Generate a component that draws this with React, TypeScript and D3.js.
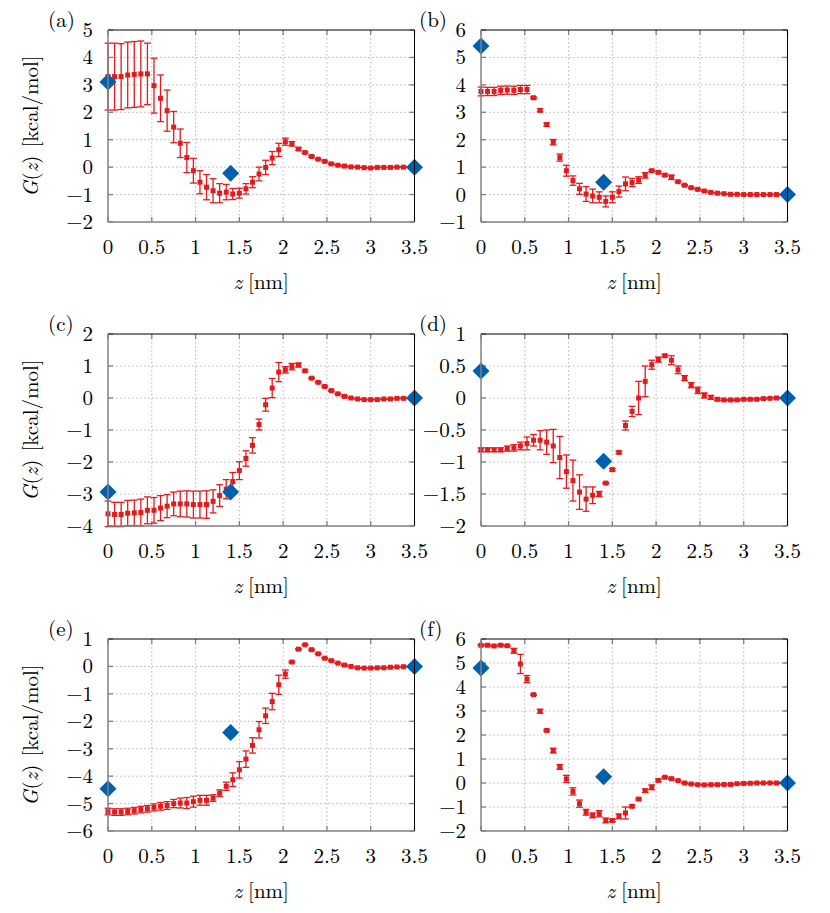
import React from "react";
import * as d3 from "d3";

// ---------- data ----------
const zGrid = [0, 0.075, 0.15, 0.225, 0.3, 0.375, 0.45, 0.525, 0.6, 0.675, 0.75, 0.825, 0.9, 0.975, 1.05, 1.125, 1.2, 1.275, 1.35, 1.425, 1.5, 1.575, 1.65, 1.725, 1.8, 1.875, 1.95, 2.025, 2.1, 2.175, 2.25, 2.325, 2.4, 2.475, 2.55, 2.625, 2.7, 2.775, 2.85, 2.925, 3.0, 3.075, 3.15, 3.225, 3.3, 3.375];

const gA = [3.30, 3.30, 3.30, 3.36, 3.38, 3.40, 3.40, 2.97, 2.51, 2.06, 1.46, 0.87, 0.35, -0.13, -0.55, -0.73, -0.86, -0.95, -0.91, -0.98, -0.95, -0.79, -0.55, -0.25, -0.01, 0.33, 0.63, 0.93, 0.85, 0.66, 0.53, 0.39, 0.29, 0.21, 0.12, 0.07, 0.04, 0.01, 0.0, -0.02, -0.03, -0.01, -0.01, -0.01, 0.0, 0.0];
const eA = [1.22, 1.22, 1.20, 1.20, 1.20, 1.20, 1.12, 1.00, 0.85, 0.75, 0.57, 0.52, 0.55, 0.45, 0.42, 0.46, 0.44, 0.35, 0.28, 0.20, 0.18, 0.19, 0.20, 0.25, 0.26, 0.24, 0.24, 0.13, 0.08, 0.05, 0.03, 0.03, 0.02, 0.02, 0.02, 0.02, 0.02, 0.01, 0.01, 0.01, 0.01, 0.01, 0.01, 0.01, 0.01, 0.01];
const diamondsA = [3.1, -0.22, 0];

const gB = [3.76, 3.76, 3.76, 3.80, 3.81, 3.80, 3.83, 3.83, 3.53, 3.07, 2.55, 1.91, 1.35, 0.87, 0.51, 0.21, 0.02, -0.05, -0.10, -0.25, -0.10, 0.11, 0.39, 0.44, 0.53, 0.70, 0.87, 0.81, 0.71, 0.63, 0.47, 0.34, 0.25, 0.19, 0.13, 0.08, 0.05, 0.03, 0.01, 0.01, 0.0, 0.0, 0.0, 0.0, 0.0, 0.0];
const eB = [0.16, 0.15, 0.15, 0.15, 0.15, 0.15, 0.15, 0.15, 0.03, 0.05, 0.06, 0.10, 0.13, 0.20, 0.17, 0.20, 0.27, 0.25, 0.20, 0.20, 0.20, 0.20, 0.25, 0.15, 0.12, 0.10, 0.03, 0.04, 0.04, 0.08, 0.03, 0.02, 0.02, 0.02, 0.02, 0.01, 0.01, 0.01, 0.01, 0.01, 0.01, 0.01, 0.01, 0.01, 0.01, 0.01];
const diamondsB = [5.42, 0.45, 0];

const gC = [-3.62, -3.64, -3.64, -3.60, -3.59, -3.58, -3.51, -3.51, -3.44, -3.38, -3.31, -3.31, -3.31, -3.33, -3.33, -3.33, -3.23, -3.05, -2.85, -2.61, -2.27, -1.89, -1.48, -0.83, -0.21, 0.31, 0.81, 0.88, 0.98, 1.03, 0.85, 0.62, 0.49, 0.36, 0.23, 0.13, 0.05, 0.0, -0.03, -0.05, -0.05, -0.05, -0.03, -0.03, -0.01, -0.01];
const eC = [0.40, 0.38, 0.38, 0.40, 0.40, 0.42, 0.42, 0.40, 0.39, 0.36, 0.37, 0.40, 0.41, 0.42, 0.42, 0.43, 0.36, 0.34, 0.30, 0.28, 0.28, 0.24, 0.24, 0.17, 0.20, 0.30, 0.30, 0.10, 0.10, 0.06, 0.03, 0.02, 0.02, 0.02, 0.02, 0.02, 0.01, 0.01, 0.01, 0.01, 0.01, 0.01, 0.01, 0.01, 0.01, 0.01];
const diamondsC = [-2.94, -2.94, 0];

const gD = [-0.81, -0.81, -0.81, -0.81, -0.79, -0.78, -0.75, -0.71, -0.66, -0.66, -0.69, -0.75, -0.93, -1.15, -1.29, -1.47, -1.58, -1.52, -1.50, -1.33, -1.12, -0.85, -0.43, -0.21, 0.0, 0.26, 0.52, 0.60, 0.66, 0.59, 0.44, 0.31, 0.20, 0.12, 0.04, 0.01, -0.02, -0.03, -0.03, -0.03, -0.02, -0.02, -0.02, -0.01, -0.005, 0.0];
const eD = [0.03, 0.03, 0.03, 0.03, 0.04, 0.05, 0.06, 0.10, 0.09, 0.15, 0.19, 0.26, 0.33, 0.26, 0.32, 0.27, 0.19, 0.13, 0.04, 0.01, 0.02, 0.02, 0.07, 0.08, 0.26, 0.24, 0.07, 0.04, 0.02, 0.07, 0.06, 0.04, 0.04, 0.05, 0.04, 0.03, 0.02, 0.01, 0.01, 0.01, 0.01, 0.01, 0.01, 0.01, 0.01, 0.01];
const diamondsD = [0.42, -0.99, 0];

const gE = [-5.29, -5.31, -5.31, -5.29, -5.26, -5.22, -5.19, -5.14, -5.10, -5.07, -5.00, -4.98, -4.98, -4.93, -4.88, -4.88, -4.80, -4.62, -4.37, -4.13, -3.77, -3.38, -2.88, -2.31, -1.80, -1.28, -0.67, -0.28, 0.16, 0.63, 0.79, 0.61, 0.46, 0.30, 0.21, 0.12, 0.05, 0.0, -0.05, -0.06, -0.06, -0.05, -0.05, -0.03, -0.02, -0.01];
const eE = [0.12, 0.12, 0.12, 0.12, 0.12, 0.12, 0.12, 0.13, 0.14, 0.14, 0.15, 0.18, 0.20, 0.20, 0.18, 0.18, 0.12, 0.12, 0.15, 0.25, 0.30, 0.30, 0.28, 0.30, 0.28, 0.30, 0.35, 0.15, 0.03, 0.02, 0.02, 0.02, 0.02, 0.02, 0.02, 0.01, 0.01, 0.01, 0.01, 0.01, 0.01, 0.01, 0.01, 0.01, 0.01, 0.01];
const diamondsE = [-4.46, -2.41, 0];

const gF = [5.74, 5.74, 5.71, 5.74, 5.72, 5.51, 4.96, 4.33, 3.68, 2.99, 2.19, 1.35, 0.67, 0.17, -0.35, -0.86, -1.22, -1.35, -1.28, -1.56, -1.56, -1.39, -1.25, -0.97, -0.67, -0.32, -0.18, 0.11, 0.24, 0.18, 0.10, 0.0, -0.04, -0.07, -0.08, -0.07, -0.07, -0.06, -0.06, -0.03, -0.02, -0.01, 0.0, 0.0, 0.0, 0.0];
const eF = [0.03, 0.03, 0.03, 0.03, 0.03, 0.10, 0.40, 0.15, 0.03, 0.08, 0.04, 0.10, 0.10, 0.15, 0.15, 0.15, 0.12, 0.10, 0.13, 0.10, 0.05, 0.10, 0.25, 0.05, 0.04, 0.07, 0.10, 0.05, 0.03, 0.03, 0.02, 0.02, 0.02, 0.02, 0.02, 0.02, 0.02, 0.02, 0.02, 0.02, 0.02, 0.02, 0.02, 0.02, 0.02, 0.02];
const diamondsF = [4.79, 0.26, 0];

const diamondZ = [0, 1.4, 3.5];
const xTicks = [0, 0.5, 1, 1.5, 2, 2.5, 3, 3.5];
const xTickLabels = ["0", "0.5", "1", "1.5", "2", "2.5", "3", "3.5"];

const yTicksA = [-2, -1, 0, 1, 2, 3, 4, 5];
const yTicksB = [-1, 0, 1, 2, 3, 4, 5, 6];
const yTicksC = [-4, -3, -2, -1, 0, 1, 2];
const yTicksD = [-2, -1.5, -1, -0.5, 0, 0.5, 1];
const yTicksE = [-6, -5, -4, -3, -2, -1, 0, 1];
const yTicksF = [-2, -1, 0, 1, 2, 3, 4, 5, 6];

const panelLabels = ["(a)", "(b)", "(c)", "(d)", "(e)", "(f)"];

const panels = [
  { label: panelLabels[0], g: gA, e: eA, d: diamondsA, ticks: yTicksA },
  { label: panelLabels[1], g: gB, e: eB, d: diamondsB, ticks: yTicksB },
  { label: panelLabels[2], g: gC, e: eC, d: diamondsC, ticks: yTicksC },
  { label: panelLabels[3], g: gD, e: eD, d: diamondsD, ticks: yTicksD },
  { label: panelLabels[4], g: gE, e: eE, d: diamondsE, ticks: yTicksE },
  { label: panelLabels[5], g: gF, e: eF, d: diamondsF, ticks: yTicksF },
];

// ---------- layout ----------
const W = 830;
const H = 913;
const colX = [108, 481];
const rowY = [30, 334, 639];
const PW = 306.5;
const PH = 192;
const FONT = "'Latin Modern Roman', 'CMU Serif', 'Liberation Serif', serif";
const FS = 21;
const RED = "#e41a1c";
const BLUE = "#0060ad";
const GRAY = "#808080";

const fmt = (v: number) => {
  const s = String(Math.abs(v));
  return v < 0 ? "\u2212" + s : s;
};

function Panel({ p, col, row }: any) {
  const x0 = colX[col];
  const y0 = rowY[row];
  const ext = d3.extent(p.ticks as number[]) as [number, number];
  const x = d3.scaleLinear().domain([0, 3.5]).range([x0, x0 + PW]);
  const y = d3.scaleLinear().domain(ext).range([y0 + PH, y0]);
  const capW = 3.4;
  const ms = 5;
  const dr = 8.5;
  const tickLen = 5;
  return (
    <g>
      {/* grid */}
      {xTicks.slice(1, -1).map((t) => (
        <line key={"gx" + t} x1={x(t)} x2={x(t)} y1={y0} y2={y0 + PH} stroke="#b0b0b0" strokeWidth={0.9} strokeDasharray="1.5,2.5" />
      ))}
      {(p.ticks as number[]).slice(1, -1).map((t) => (
        <line key={"gy" + t} x1={x0} x2={x0 + PW} y1={y(t)} y2={y(t)} stroke="#b0b0b0" strokeWidth={0.9} strokeDasharray="1.5,2.5" />
      ))}
      {/* ticks */}
      {xTicks.map((t, i) => (
        <g key={"tx" + t}>
          <line x1={x(t)} x2={x(t)} y1={y0 + PH} y2={y0 + PH - tickLen} stroke={GRAY} strokeWidth={1.3} />
          <line x1={x(t)} x2={x(t)} y1={y0} y2={y0 + tickLen} stroke={GRAY} strokeWidth={1.3} />
          <text x={x(t)} y={y0 + PH + 32} textAnchor="middle" fontSize={FS} fontFamily={FONT}>{xTickLabels[i]}</text>
        </g>
      ))}
      {(p.ticks as number[]).map((t) => (
        <g key={"ty" + t}>
          <line x1={x0} x2={x0 + tickLen} y1={y(t)} y2={y(t)} stroke={GRAY} strokeWidth={1.3} />
          <line x1={x0 + PW} x2={x0 + PW - tickLen} y1={y(t)} y2={y(t)} stroke={GRAY} strokeWidth={1.3} />
          <text x={x0 - 15} y={y(t) + 7} textAnchor="end" fontSize={FS} fontFamily={FONT}>{fmt(t)}</text>
        </g>
      ))}
      {/* error bars */}
      {(p.g as number[]).map((v, i) => {
        const cx = x(zGrid[i]);
        const e = p.e[i];
        return (
          <g key={"e" + i} stroke={RED} strokeWidth={1.3}>
            <line x1={cx} x2={cx} y1={y(v - e)} y2={y(v + e)} />
            <line x1={cx - capW} x2={cx + capW} y1={y(v - e)} y2={y(v - e)} />
            <line x1={cx - capW} x2={cx + capW} y1={y(v + e)} y2={y(v + e)} />
          </g>
        );
      })}
      {(p.g as number[]).map((v, i) => (
        <rect key={"m" + i} x={x(zGrid[i]) - ms / 2} y={y(v) - ms / 2} width={ms} height={ms} fill={RED} />
      ))}
      {/* diamonds */}
      {(p.d as number[]).map((v, i) => {
        const cx = x(diamondZ[i]);
        const cy = y(v);
        return <path key={"d" + i} d={`M${cx},${cy - dr}L${cx + dr},${cy}L${cx},${cy + dr}L${cx - dr},${cy}Z`} fill={BLUE} />;
      })}
      {/* frame */}
      <line x1={x0} x2={x0 + PW} y1={y0} y2={y0} stroke="#000" strokeWidth={1} />
      <line x1={x0 + PW} x2={x0 + PW} y1={y0} y2={y0 + PH} stroke="#000" strokeWidth={1} />
      <line x1={x0} x2={x0} y1={y0} y2={y0 + PH} stroke={GRAY} strokeWidth={1.5} />
      <line x1={x0} x2={x0 + PW} y1={y0 + PH} y2={y0 + PH} stroke={GRAY} strokeWidth={1.5} />
      {/* x label */}
      <text x={x0 + PW / 2} y={y0 + PH + 67} textAnchor="middle" fontSize={FS} fontFamily={FONT}>
        <tspan fontStyle="italic">z</tspan>
        <tspan dx={6}>[nm]</tspan>
      </text>
      {/* panel label */}
      <text x={col === 0 ? 48 : 419} y={y0 - 3} fontSize={FS} fontFamily={FONT}>{p.label}</text>
      {col === 0 && (
        <text transform={`translate(38,${y0 + PH / 2}) rotate(-90)`} textAnchor="middle" fontSize={FS} fontFamily={FONT}>
          <tspan fontStyle="italic">G</tspan>
          <tspan>(</tspan>
          <tspan fontStyle="italic">z</tspan>
          <tspan>)</tspan>
          <tspan dx={8}>[kcal/mol]</tspan>
        </text>
      )}
    </g>
  );
}

export default function App() {
  return (
    <svg width={W} height={H} viewBox={`0 0 ${W} ${H}`} style={{ display: "block", position: "absolute", left: 0, top: 0, background: "#fff" }}>
      <rect width={W} height={H} fill="#fff" />
      {panels.map((p, i) => (
        <Panel key={i} p={p} col={i % 2} row={Math.floor(i / 2)} />
      ))}
    </svg>
  );
}
